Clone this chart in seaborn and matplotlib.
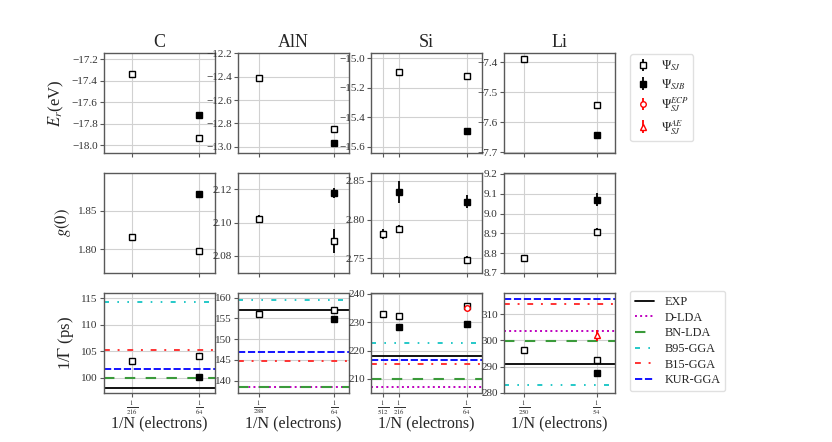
import numpy as np
import matplotlib
matplotlib.use('Agg')
import matplotlib.pyplot as plt
from matplotlib.ticker import MultipleLocator
from matplotlib.lines import Line2D
import seaborn as sns

nan = np.nan

# ---- data ----
systems = ['C', 'AlN', 'Si', 'Li']
N = {'C': [216, 64], 'AlN': [288, 64], 'Si': [512, 216, 64], 'Li': [250, 54]}

# E_r (eV)
er_sj = {'C': [-17.34, -17.935], 'AlN': [-12.414, -12.851],
         'Si': [nan, -15.095, -15.12], 'Li': [-7.39, -7.543]}
er_sjb = {'C': [nan, -17.718], 'AlN': [nan, -12.966],
          'Si': [nan, nan, -15.495], 'Li': [nan, -7.643]}

# g(0)
g0_sj = {'C': [1.8155, 1.798], 'AlN': [2.1022, 2.089],
         'Si': [2.7815, 2.7884, 2.748], 'Li': [8.778, 8.905]}
g0_sj_err = {'C': [0.002, 0.002], 'AlN': [0.0025, 0.0072],
             'Si': [0.006, 0.005, 0.005], 'Li': [0.015, 0.02]}
g0_sjb = {'C': [nan, 1.872], 'AlN': [nan, 2.118],
          'Si': [nan, 2.8358, 2.823], 'Li': [nan, 9.07]}
g0_sjb_err = {'C': [0, 0.003], 'AlN': [0, 0.003],
              'Si': [0, 0.014, 0.008], 'Li': [0, 0.033]}

# 1/Gamma (ps)
ig_sj = {'C': [103.1, 104.0], 'AlN': [156.0, 156.9],
         'Si': [232.9, 232.3, 235.9], 'Li': [296.2, 292.4]}
ig_sjb = {'C': [nan, 100.1], 'AlN': [nan, 154.8],
          'Si': [nan, 228.5, 229.5], 'Li': [nan, 287.6]}
ig_sjb_err = {'C': [0, 0.3], 'AlN': [0, 0.4],
              'Si': [0, 1.0, 0.5], 'Li': [0, 1.0]}
ig_ecp = {'Si': [nan, nan, 235.2]}
ig_ecp_err = {'Si': [0, 0, 0.6]}
ig_ae = {'Li': [nan, 301.9]}
ig_ae_err = {'Li': [0, 2.0]}

# reference lines (EXP and DFT)
dft_names = ['EXP', 'D-LDA', 'BN-LDA', 'B95-GGA', 'B15-GGA', 'KUR-GGA']
dft_C = [98.0, nan, 100.0, 114.25, 105.2, 101.6]
dft_AlN = [157.0, 138.4, 138.5, 159.4, 144.8, 146.8]
dft_Si = [218.0, 207.3, 209.9, 222.7, 215.3, 216.6]
dft_Li = [291.1, 303.5, 299.7, 282.9, 313.9, 315.7]
dft_vals = {'C': dft_C, 'AlN': dft_AlN, 'Si': dft_Si, 'Li': dft_Li}

# ---- style ----
sns.set_style('whitegrid')
plt.rcParams['font.family'] = ['Liberation Serif', 'DejaVu Serif']
plt.rcParams['mathtext.fontset'] = 'stix'
plt.rcParams['axes.edgecolor'] = '0.35'
plt.rcParams['axes.linewidth'] = 1.0
plt.rcParams['grid.color'] = '0.82'
plt.rcParams['xtick.bottom'] = True
plt.rcParams['ytick.left'] = True
plt.rcParams['xtick.color'] = '0.35'
plt.rcParams['ytick.color'] = '0.35'
plt.rcParams['xtick.labelcolor'] = '0.2'
plt.rcParams['ytick.labelcolor'] = '0.2'
plt.rcParams['xtick.major.size'] = 3
plt.rcParams['ytick.major.size'] = 3

dft_styles = {
    'EXP': dict(color='black', ls='-', lw=1.3),
    'D-LDA': dict(color='m', ls=':', lw=1.4),
    'BN-LDA': dict(color='#3a9a3a', ls=(0, (5, 5)), lw=1.5),
    'B95-GGA': dict(color='c', ls=(0, (3, 5, 1, 5, 1, 5)), lw=1.2),
    'B15-GGA': dict(color='#ff3333', ls=(0, (3, 4, 1, 4)), lw=1.4),
    'KUR-GGA': dict(color='b', ls=(0, (4, 1.5)), lw=1.3),
}

xmax = {'C': 0.01825, 'AlN': 0.0180, 'Si': 0.0181, 'Li': 0.0222}
ylims = [
    {'C': (-18.072, -17.141), 'AlN': (-13.054, -12.197),
     'Si': (-15.643, -14.964), 'Li': (-7.702, -7.369)},
    {'C': (1.769, 1.899), 'AlN': (2.0698, 2.1298),
     'Si': (2.731, 2.860), 'Li': (8.70, 9.205)},
    {'C': (97.1, 116.0), 'AlN': (137.0, 161.1),
     'Si': (205.05, 240.35), 'Li': (280.0, 318.0)},
]
ysteps = [
    {'C': 0.2, 'AlN': 0.2, 'Si': 0.2, 'Li': 0.1},
    {'C': 0.05, 'AlN': 0.02, 'Si': 0.05, 'Li': 0.1},
    {'C': 5, 'AlN': 5, 'Si': 10, 'Li': 10},
]
ylabels = ['$E_r$(eV)', '$g(0)$', r'1/$\Gamma$ (ps)']

W, H = 832, 442
fig = plt.figure(figsize=(W / 100, H / 100), dpi=100)
lefts = [104, 238, 371, 504]
tops = [53, 173, 293]
aw, ah = 111, 100

open_kw = dict(fmt='s', ms=4.5, mfc='white', mec='black', ecolor='black',
               color='black', elinewidth=1.3, capsize=0, mew=1.0)
fill_kw = dict(fmt='s', ms=4.5, mfc='black', mec='black', ecolor='black',
               color='black', elinewidth=1.3, capsize=0)
red_kw = dict(ms=4, mfc='white', mec='red', ecolor='red', color='red',
              elinewidth=1.3, capsize=0, mew=1.0)

handles = {}
for r in range(3):
    for c, s in enumerate(systems):
        ax = fig.add_axes([lefts[c] / W, 1 - (tops[r] + ah) / H, aw / W, ah / H])
        x = 1.0 / np.array(N[s])
        if r == 0:
            ax.errorbar(x, er_sj[s], **open_kw)
            ax.errorbar(x, er_sjb[s], **fill_kw)
        elif r == 1:
            h1 = ax.errorbar(x, g0_sj[s], yerr=g0_sj_err[s], **open_kw)
            h2 = ax.errorbar(x, g0_sjb[s], yerr=g0_sjb_err[s], **fill_kw)
            if s == 'Li':
                handles['sj'], handles['sjb'] = h1, h2
        else:
            for name, v in zip(dft_names, dft_vals[s]):
                if not np.isnan(v):
                    ax.axhline(v, **dft_styles[name])
            ax.errorbar(x, ig_sj[s], **open_kw)
            ax.errorbar(x, ig_sjb[s], yerr=ig_sjb_err[s], **fill_kw)
            if s in ig_ecp:
                handles['ecp'] = ax.errorbar(x, ig_ecp[s], yerr=ig_ecp_err[s],
                                             fmt='o', **red_kw)
            if s in ig_ae:
                handles['ae'] = ax.errorbar(x, ig_ae[s], yerr=ig_ae_err[s],
                                            fmt='^', **red_kw)
        ax.set_xlim(0, xmax[s])
        ax.set_ylim(*ylims[r][s])
        ax.yaxis.set_major_locator(MultipleLocator(ysteps[r][s]))
        ax.set_xticks(x)
        if r == 2:
            ax.set_xticklabels([r'$\frac{1}{%d}$' % n for n in N[s]], fontsize=7)
            ax.set_xlabel('1/N (electrons)', fontsize=11.5, labelpad=-1)
        else:
            ax.set_xticklabels([])
        ax.tick_params(axis='y', labelsize=8, pad=1.5)
        ax.tick_params(axis='x', pad=1.0)
        if r == 0:
            ax.set_title(s, fontsize=13, pad=4)
        if c == 0:
            ax.set_ylabel(ylabels[r], fontsize=12)

# legend for wavefunctions
wf_handles = [handles['sj'], handles['sjb'], handles['ecp'], handles['ae']]
wf_labels = [r'$\Psi_{SJ}$', r'$\Psi_{SJB}$', r'$\Psi_{SJ}^{ECP}$', r'$\Psi_{SJ}^{AE}$']
fig.legend(wf_handles, wf_labels, loc='upper left', bbox_to_anchor=(630 / W, 1 - 54 / H),
           fontsize=9, handlelength=1.3, frameon=True, edgecolor='0.85',
           borderpad=0.35, labelspacing=0.3, borderaxespad=0, handletextpad=0.8)

dft_handles = [Line2D([0], [0], **dft_styles[n]) for n in dft_names]
fig.legend(dft_handles, dft_names, loc='upper left', bbox_to_anchor=(630 / W, 1 - 291 / H),
           fontsize=8.8, handlelength=1.6, frameon=True, edgecolor='0.85',
           borderpad=0.4, labelspacing=0.3, borderaxespad=0, handletextpad=0.8)

fig.savefig('out.png', dpi=100)
